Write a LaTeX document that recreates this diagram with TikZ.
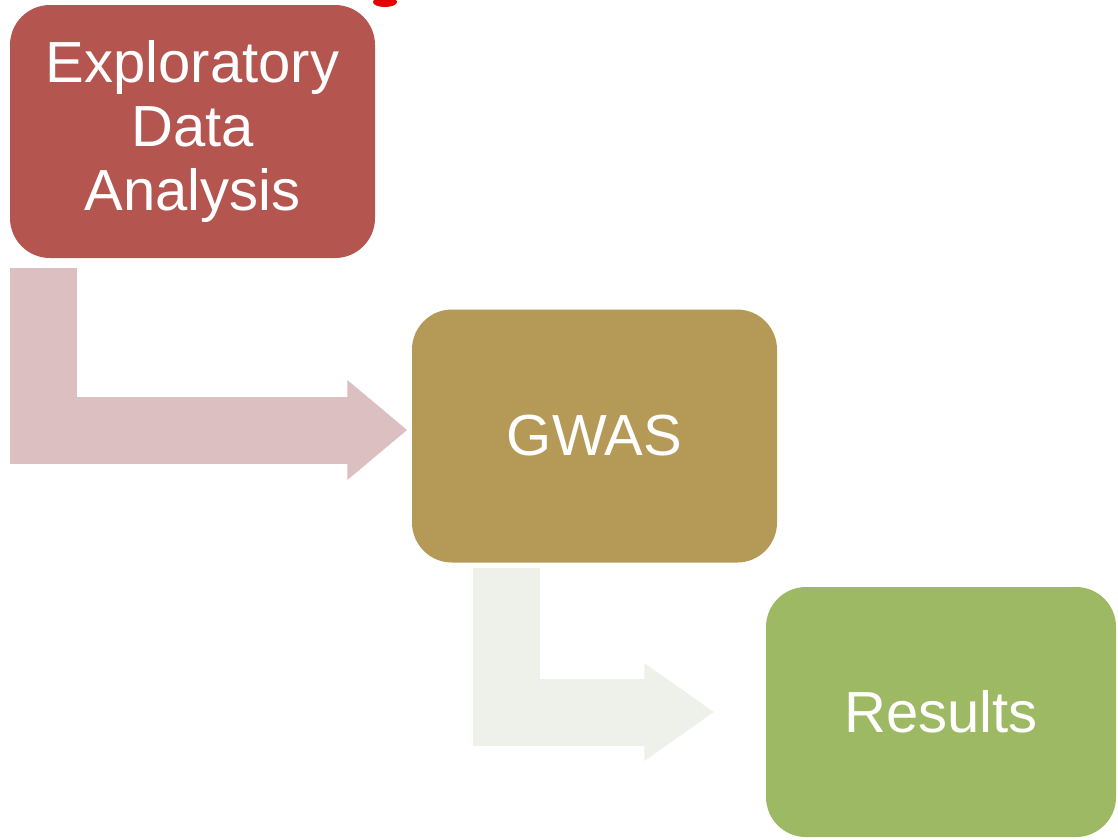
\documentclass[tikz,border=0pt]{standalone}
\usepackage{fontspec}
\setmainfont{Liberation Sans}
\usetikzlibrary{arrows.meta}
\definecolor{edared}{HTML}{B4554F}
\definecolor{gwasgold}{HTML}{B59957}
\definecolor{resgreen}{HTML}{9EB963}
\definecolor{pinkarrow}{HTML}{DBBFC1}
\definecolor{greyarrow}{HTML}{EEF0EA}
\tikzset{>=stealth,
  stagebox/.style={rectangle, rounded corners=0.4cm, inner sep=0pt, text=white,
    align=center, minimum width=3.65cm, minimum height=2.53cm,
    font=\fontsize{16.5}{18.2}\selectfont},
  bentarrow/.style={line width=0.67cm, line join=miter, line cap=butt}}

\begin{document}
\begin{tikzpicture}
\clip (0,0) rectangle (11.18,-8.39);
\fill[white] (0,0) rectangle (11.18,-8.39);
\fill[red!90!black] (3.85,-0.02) ellipse (0.12 and 0.05);
\node[stagebox, fill=edared] (eda) at (1.925,-1.315) {Exploratory\\Data\\Analysis};
\node[stagebox, fill=gwasgold] (gwas) at (5.945,-4.36) {GWAS};
\node[stagebox, fill=resgreen, minimum width=3.5cm, minimum height=2.5cm] (res) at (9.41,-7.12) {Results};
\coordinate (start1) at (0.435,-2.68);
\coordinate (start2) at (5.065,-5.68);
\draw[bentarrow, pinkarrow, -{Triangle[width=0.96cm,length=0.6cm]}, shorten >=0.04cm] (start1) |- ([yshift=0.06cm]gwas.west);
\draw[bentarrow, greyarrow, -{Triangle[width=0.93cm,length=0.7cm]}, shorten >=0.51cm] (start2) |- (res.west);
\end{tikzpicture}
\end{document}
